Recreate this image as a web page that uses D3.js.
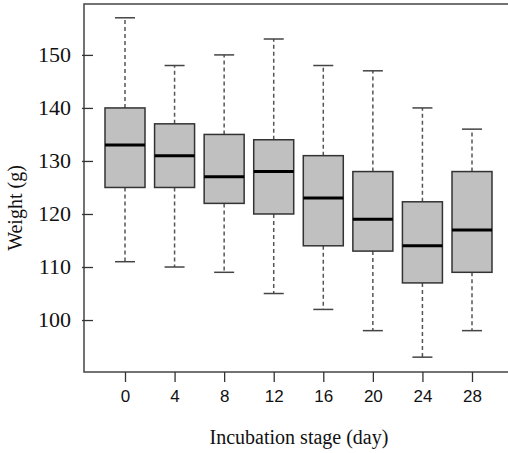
<!DOCTYPE html>
<html>
<head>
<meta charset="utf-8">
<script src="https://cdn.jsdelivr.net/npm/d3@7"></script>
<style>
  body { margin: 0; background: #fff; }
  svg { display: block; }
</style>
</head>
<body>
<div id="chart"></div>
<script>
// data
var stages   = ["0", "4", "8", "12", "16", "20", "24", "28"];
var whiskLo  = [111, 110, 109, 105, 102,  98,  93,  98];
var q1       = [125, 125, 122, 120, 114, 113, 107, 109];
var medians  = [133, 131, 127, 128, 123, 119, 114, 117];
var q3       = [140, 137, 135, 134, 131, 128, 122.3, 128];
var whiskHi  = [157, 148, 150, 153, 148, 147, 140, 136];
var yTicks   = [100, 110, 120, 130, 140, 150];

var W = 508, H = 453;
// plot frame (right side runs off the picture)
var frameL = 84, frameT = 4, frameB = 372, frameR = 510;

var svg = d3.select("#chart").append("svg")
  .attr("width", W)
  .attr("height", H);

var x = d3.scalePoint()
  .domain(stages)
  .range([125, 472]);

var y = d3.scaleLinear()
  .domain([90.2, 159.6])
  .range([frameB, frameT]);

var boxW = 40, capW = 20;

svg.append("rect")
  .attr("x", frameL)
  .attr("y", frameT)
  .attr("width", frameR - frameL)
  .attr("height", frameB - frameT)
  .style("fill", "none")
  .style("stroke", "#444")
  .style("stroke-width", 1.5);

// y axis, ticks mostly inward
var yAxis = d3.axisRight(y)
  .tickValues(yTicks)
  .tickSize(11)
  .tickFormat("");
svg.append("g")
  .attr("transform", "translate(" + (frameL - 2) + ",0)")
  .call(yAxis)
  .call(function (g) {
    g.select(".domain").remove();
    g.selectAll("line").style("stroke", "#333").style("stroke-width", 1.3);
  });

svg.selectAll(".ylab")
  .data(yTicks)
  .enter().append("text")
  .attr("class", "ylab")
  .attr("x", 71)
  .attr("y", function (d) { return y(d) + 7; })
  .attr("text-anchor", "end")
  .style("font-family", "'Liberation Serif', 'Times New Roman', serif")
  .style("font-size", "22px")
  .style("fill", "#111")
  .text(function (d) { return d; });

// x axis, ticks pointing down
var xAxis = d3.axisBottom(x)
  .tickSize(10)
  .tickPadding(8);
svg.append("g")
  .attr("transform", "translate(0," + frameB + ")")
  .call(xAxis)
  .call(function (g) {
    g.select(".domain").remove();
    g.selectAll("line").style("stroke", "#333").style("stroke-width", 1.3);
    g.selectAll("text")
      .style("font-family", "'Liberation Sans', Arial, sans-serif")
      .style("font-size", "17px")
      .style("fill", "#111");
  });

// boxes
var idx = d3.range(stages.length);
var boxes = svg.append("g").attr("class", "boxes");

// whiskers (dashed)
[[q3, whiskHi], [q1, whiskLo]].forEach(function (pair) {
  boxes.selectAll(null)
    .data(idx).enter().append("line")
    .attr("x1", function (i) { return x(stages[i]); })
    .attr("x2", function (i) { return x(stages[i]); })
    .attr("y1", function (i) { return y(pair[0][i]); })
    .attr("y2", function (i) { return y(pair[1][i]); })
    .style("stroke", "#555")
    .style("stroke-width", 1.5)
    .style("stroke-dasharray", "4,3");
});

// caps
[whiskHi, whiskLo].forEach(function (arr) {
  boxes.selectAll(null)
    .data(idx).enter().append("line")
    .attr("x1", function (i) { return x(stages[i]) - capW / 2; })
    .attr("x2", function (i) { return x(stages[i]) + capW / 2; })
    .attr("y1", function (i) { return y(arr[i]); })
    .attr("y2", function (i) { return y(arr[i]); })
    .style("stroke", "#444")
    .style("stroke-width", 1.5);
});

boxes.selectAll(".box")
  .data(idx).enter().append("rect")
  .attr("class", "box")
  .attr("x", function (i) { return x(stages[i]) - boxW / 2; })
  .attr("y", function (i) { return y(q3[i]); })
  .attr("width", boxW)
  .attr("height", function (i) { return y(q1[i]) - y(q3[i]); })
  .style("fill", "#c0c0c0")
  .style("stroke", "#333")
  .style("stroke-width", 1.5);

boxes.selectAll(".median")
  .data(idx).enter().append("line")
  .attr("class", "median")
  .attr("x1", function (i) { return x(stages[i]) - boxW / 2; })
  .attr("x2", function (i) { return x(stages[i]) + boxW / 2; })
  .attr("y1", function (i) { return y(medians[i]); })
  .attr("y2", function (i) { return y(medians[i]); })
  .style("stroke", "#000")
  .style("stroke-width", 3);

// axis titles
svg.append("text")
  .attr("x", 299)
  .attr("y", 444)
  .attr("text-anchor", "middle")
  .style("font-family", "'Liberation Serif', 'Times New Roman', serif")
  .style("font-size", "20px")
  .style("fill", "#111")
  .text("Incubation stage (day)");

svg.append("text")
  .attr("transform", "translate(22,208) rotate(-90)")
  .attr("text-anchor", "middle")
  .style("font-family", "'Liberation Serif', 'Times New Roman', serif")
  .style("font-size", "20px")
  .style("fill", "#111")
  .text("Weight (g)");
</script>
</body>
</html>
